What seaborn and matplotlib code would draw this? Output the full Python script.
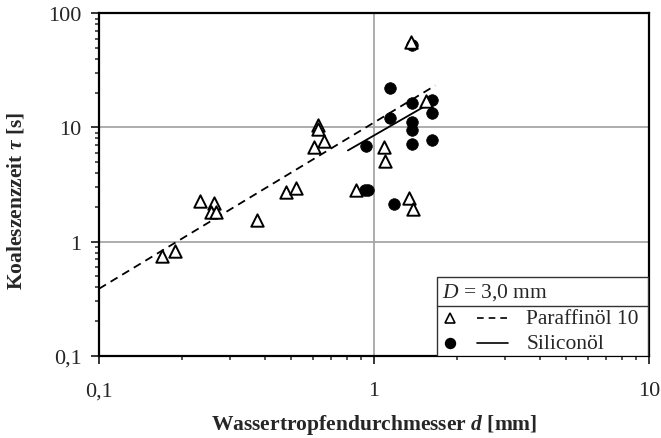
import pandas as pd
import matplotlib.pyplot as plt
import seaborn as sns
from matplotlib.lines import Line2D
from matplotlib.patches import Rectangle
from matplotlib.ticker import FixedLocator, FixedFormatter, LogLocator, NullFormatter

# Paraffinöl 10 measurements (d in mm, tau in s)
paraffin_d = [0.170, 0.189, 0.232, 0.262, 0.256, 0.267, 0.374, 0.477, 0.522, 0.626,
              0.626, 0.656, 0.605, 0.858, 1.085, 1.10, 1.36, 1.54, 1.34, 1.39]
paraffin_tau = [0.74, 0.82, 2.26, 2.19, 1.80, 1.80, 1.54, 2.71, 2.94, 10.5,
                9.7, 7.6, 6.8, 2.81, 6.8, 5.1, 56.6, 17.1, 2.40, 1.94]

# Siliconöl measurements
silicon_d = [1.38, 1.14, 1.37, 1.62, 1.63, 1.14, 1.38, 1.38, 1.38, 1.63, 0.938, 0.925, 0.95, 1.18]
silicon_tau = [52.9, 22.1, 16.3, 17.4, 13.3, 12.1, 11.1, 9.5, 7.2, 7.7, 6.9, 2.81, 2.81, 2.13]

# fit lines (end points)
paraffin_fit_d = [0.1, 1.67]
paraffin_fit_tau = [0.386, 23.3]
silicon_fit_d = [0.804, 1.55]
silicon_fit_tau = [6.29, 15.6]

ticks = [0.1, 1, 10, 100]
tick_labels = ['0,1', '1', '10', '100']

legend_title = r'$\mathit{D}$ = 3,0 mm'
series_names = ['Paraffinöl 10', 'Siliconöl']

sns.set_style('white')
plt.rcParams['font.family'] = ['Liberation Serif', 'DejaVu Serif']
plt.rcParams['mathtext.fontset'] = 'custom'
plt.rcParams['mathtext.rm'] = 'Liberation Serif'
plt.rcParams['mathtext.it'] = 'Liberation Serif:italic'
plt.rcParams['mathtext.bf'] = 'Liberation Serif:bold:italic'

df_p = pd.DataFrame({'d': paraffin_d, 'tau': paraffin_tau})
df_s = pd.DataFrame({'d': silicon_d, 'tau': silicon_tau})
fit_p = pd.DataFrame({'d': paraffin_fit_d, 'tau': paraffin_fit_tau})
fit_s = pd.DataFrame({'d': silicon_fit_d, 'tau': silicon_fit_tau})

fig = plt.figure(figsize=(6.61, 4.39), dpi=100)
ax = fig.add_axes([99 / 661, (439 - 356.7) / 439, 550 / 661, 342.4 / 439])
ax.set_xscale('log')
ax.set_yscale('log')

sns.lineplot(data=fit_p, x='d', y='tau', ax=ax, color='black', lw=1.3,
             linestyle=(0, (4.5, 3)), zorder=3)
sns.lineplot(data=fit_s, x='d', y='tau', ax=ax, color='black', lw=1.3, zorder=3)
sns.scatterplot(data=df_s, x='d', y='tau', ax=ax, marker='o', s=70,
                color='black', edgecolor='black', linewidth=0.5, zorder=4)
sns.scatterplot(data=df_p, x='d', y='tau', ax=ax, marker='^', s=80,
                facecolor='white', edgecolor='black', linewidth=1.4, zorder=5)

ax.set_xlim(0.1, 10)
ax.set_ylim(0.1, 100)
ax.xaxis.set_major_locator(FixedLocator(ticks[:3]))
ax.xaxis.set_major_formatter(FixedFormatter(tick_labels[:3]))
ax.yaxis.set_major_locator(FixedLocator(ticks))
ax.yaxis.set_major_formatter(FixedFormatter(tick_labels))
ax.xaxis.set_minor_locator(LogLocator(base=10, subs=range(2, 10)))
ax.yaxis.set_minor_locator(LogLocator(base=10, subs=range(2, 10)))
ax.xaxis.set_minor_formatter(NullFormatter())
ax.yaxis.set_minor_formatter(NullFormatter())

ax.grid(which='major', color='#a0a0a0', lw=1.2)
ax.grid(which='minor', visible=False)
for sp in ax.spines.values():
    sp.set_color('black')
    sp.set_linewidth(1.6)
ax.tick_params(which='major', direction='out', length=5.5, width=1.3, labelsize=16,
               bottom=True, left=True, top=False, right=False)
ax.tick_params(which='minor', direction='out', length=3.2, width=1.1,
               bottom=True, left=True, top=False, right=False)
ax.tick_params(axis='x', which='major', pad=13)
ax.tick_params(axis='y', which='major', pad=7)

ax.set_xlabel(r'Wassertropfendurchmesser $\mathbf{d}$ [mm]', fontsize=15.5, fontweight='bold')
ax.set_ylabel(r'Koaleszenzzeit $\mathbf{\tau}$ [s]', fontsize=15.5, fontweight='bold')
ax.xaxis.set_label_coords(0.5, -0.163)
ax.yaxis.set_label_coords(-0.131, 0.455)

# legend box drawn by hand (title row separated by a line)
ax.add_patch(Rectangle((0.615, 0.0), 0.383, 0.229, transform=ax.transAxes,
                       facecolor='white', edgecolor='#333333', lw=1.0, zorder=10))
ax.add_line(Line2D([0.615, 0.998], [0.144, 0.144], transform=ax.transAxes,
                   color='#333333', lw=1.0, zorder=11))
ax.text(0.624, 0.187, legend_title, transform=ax.transAxes, fontsize=15.5,
        va='center', ha='left', zorder=12)
rows_y = [0.110, 0.037]
styles = [dict(marker='^', mfc='white', ls=(0, (4, 3))), dict(marker='o', mfc='black', ls='-')]
for name, y, st in zip(series_names, rows_y, styles):
    ax.add_line(Line2D([0.638], [y], transform=ax.transAxes, marker=st['marker'], ms=7,
                       mfc=st['mfc'], mec='black', mew=1.2, ls='none', zorder=12))
    ax.add_line(Line2D([0.687, 0.744], [y, y], transform=ax.transAxes, color='black',
                       lw=1.2, ls=st['ls'], zorder=12))
    ax.text(0.777, y, name, transform=ax.transAxes, fontsize=15.5, va='center',
            ha='left', zorder=12)

plt.savefig('out.png', dpi=100)
